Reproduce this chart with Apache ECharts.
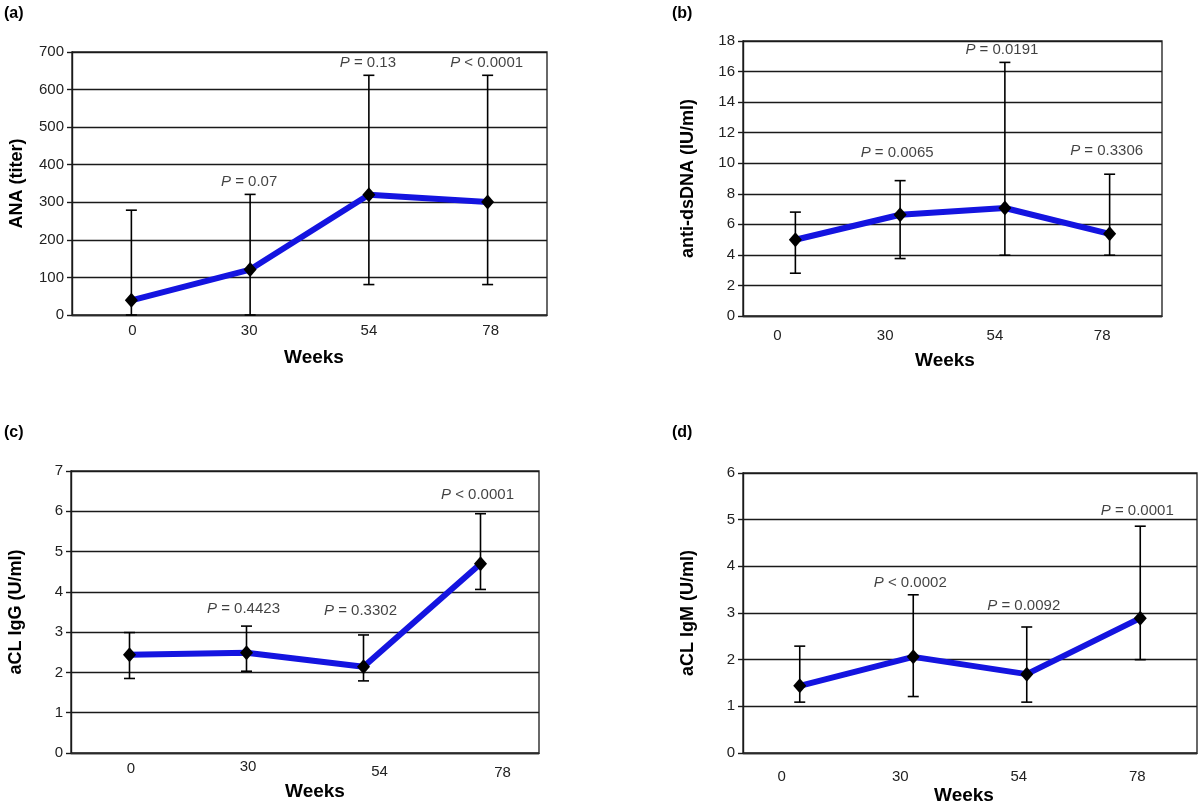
<!DOCTYPE html>
<html><head><meta charset="utf-8">
<script src="https://cdn.jsdelivr.net/npm/echarts@6/dist/echarts.min.js"></script>
<style>html,body{margin:0;padding:0;background:#fff}#c{width:1200px;height:806px}</style>
</head><body><div id="c"></div>
<script>
// ---------- data ----------
const weeks = ['0', '30', '54', '78'];

// (a) ANA (titer)
const anaMean = [39, 121, 320, 301];
const anaLow  = [0, 0, 81, 81];
const anaHigh = [279, 321, 638, 638];
const anaPText = ['', '= 0.07', '= 0.13', '< 0.0001'];
const anaPY    = [null, 355, 672, 672];
const anaTicks = [0, 700, 100];

// (b) anti-dsDNA (IU/ml)
const dnaMean = [4.99, 6.63, 7.07, 5.38];
const dnaLow  = [2.8, 3.76, 3.98, 3.98];
const dnaHigh = [6.8, 8.86, 16.6, 9.28];
const dnaPText = ['', '= 0.0065', '= 0.0191', '= 0.3306'];
const dnaPY    = [null, 10.67, 17.4, 10.78];
const dnaTicks = [0, 18, 2];

// (c) aCL IgG (U/ml)
const iggMean = [2.44, 2.49, 2.14, 4.70];
const iggLow  = [1.85, 2.03, 1.79, 4.06];
const iggHigh = [2.99, 3.15, 2.93, 5.94];
const iggPText = ['', '= 0.4423', '= 0.3302', '< 0.0001'];
const iggPY    = [null, 3.57, 3.53, 6.42];
const iggTicks = [0, 7, 1];

// (d) aCL IgM (U/ml)
const igmMean = [1.44, 2.06, 1.69, 2.89];
const igmLow  = [1.09, 1.21, 1.09, 2.0];
const igmHigh = [2.29, 3.39, 2.70, 4.86];
const igmPText = ['', '< 0.0002', '= 0.0092', '= 0.0001'];
const igmPY    = [null, 3.65, 3.15, 5.19];
const igmTicks = [0, 6, 1];

// ---------- layout / style ----------
const FONT = '"Liberation Sans", Arial, Helvetica, sans-serif';
const panels = [
  {tag:'(a)', tagPos:[4,6], yName:'ANA (titer)', mean:anaMean, low:anaLow, high:anaHigh, pText:anaPText, pY:anaPY, ticks:anaTicks,
   grid:{left:72, top:52, width:475, height:263}, labelMargin:8, labelPads:[[0,0,0,2],[0,2,0,0],[0,0,0,0],[0,0,0,6]], nameGap:33, namePad:[0,0,0,9], pDx:-1},
  {tag:'(b)', tagPos:[672,6], yName:'anti-dsDNA (IU/ml)', mean:dnaMean, low:dnaLow, high:dnaHigh, pText:dnaPText, pY:dnaPY, ticks:dnaTicks,
   grid:{left:743, top:41, width:419, height:275}, labelMargin:12, labelPads:[[0,36,0,0],[0,30,0,0],[0,20,0,0],[0,15,0,0]], nameGap:35, namePad:[0,15,0,0], pDx:-3},
  {tag:'(c)', tagPos:[4,425], yName:'aCL IgG (U/ml)', mean:iggMean, low:iggLow, high:iggHigh, pText:iggPText, pY:iggPY, ticks:iggTicks,
   grid:{left:71, top:471, width:468, height:282}, labelMargin:6, labelPads:[[2,0,0,3],[0,0,0,3],[5,0,0,32],[6,0,0,44]], nameGap:29, namePad:[0,0,0,20], pDx:-3},
  {tag:'(d)', tagPos:[672,425], yName:'aCL IgM (U/ml)', mean:igmMean, low:igmLow, high:igmHigh, pText:igmPText, pY:igmPY, ticks:igmTicks,
   grid:{left:743, top:473, width:454, height:282}, labelMargin:16, labelPads:[[0,36,0,0],[0,26,0,0],[0,16,0,0],[0,6,0,0]], nameGap:33, namePad:[0,12,0,0], pDx:-3}
];

function errRender(params, api) {
  const x = api.value(0), lo = api.value(1), hi = api.value(2);
  const a = api.coord([x, hi]), b = api.coord([x, lo]);
  const hw = 5.5;
  const st = {stroke:'#000', lineWidth:1.6};
  return {type:'group', children:[
    {type:'line', shape:{x1:a[0], y1:a[1], x2:b[0], y2:b[1]}, style:st},
    {type:'line', shape:{x1:a[0]-hw, y1:a[1], x2:a[0]+hw, y2:a[1]}, style:st},
    {type:'line', shape:{x1:b[0]-hw, y1:b[1], x2:b[0]+hw, y2:b[1]}, style:st}
  ]};
}

const option = {animation:false, backgroundColor:'#fff', title:[], grid:[], xAxis:[], yAxis:[], series:[]};

panels.forEach((p, k) => {
  option.title.push({text:p.tag, left:p.tagPos[0], top:p.tagPos[1], padding:0,
    textStyle:{fontFamily:FONT, fontSize:16, fontWeight:'bold', color:'#000'}});
  option.grid.push(Object.assign({show:true, borderColor:'#2a2a2a', borderWidth:1.4, containLabel:false}, p.grid));
  option.xAxis.push({type:'category', gridIndex:k, boundaryGap:true,
    data: weeks.map((w, i) => ({value:w, textStyle:{padding:p.labelPads[i]}})),
    name:'Weeks', nameLocation:'middle', nameGap:p.nameGap,
    nameTextStyle:{fontFamily:FONT, fontSize:19, fontWeight:'bold', color:'#000', padding:p.namePad},
    axisLine:{show:true, lineStyle:{color:'#2a2a2a', width:1.4}}, axisTick:{show:false},
    axisLabel:{interval:0, margin:p.labelMargin, fontFamily:FONT, fontSize:15, color:'#222'},
    splitLine:{show:false}});
  option.yAxis.push({type:'value', gridIndex:k, min:p.ticks[0], max:p.ticks[1], interval:p.ticks[2],
    name:p.yName, nameLocation:'middle', nameGap:46,
    nameTextStyle:{fontFamily:FONT, fontSize:18, fontWeight:'bold', color:'#000'},
    axisLine:{show:true, lineStyle:{color:'#1a1a1a', width:1.4}},
    axisTick:{show:true, length:5, lineStyle:{color:'#1a1a1a', width:1.4}},
    axisLabel:{margin:8, fontFamily:FONT, fontSize:15, color:'#222'},
    splitLine:{show:true, lineStyle:{color:'#1a1a1a', width:1.4}}});
  option.series.push({type:'custom', xAxisIndex:k, yAxisIndex:k, z:2, silent:true,
    renderItem:errRender, encode:{x:0, y:[1,2]},
    data: weeks.map((w, i) => [i, p.low[i], p.high[i]])});
  option.series.push({type:'line', xAxisIndex:k, yAxisIndex:k, z:3, silent:true,
    data:p.mean, symbol:'diamond', symbolSize:[13,15],
    itemStyle:{color:'#000'}, lineStyle:{color:'#1414e0', width:6}});
  option.series.push({type:'scatter', xAxisIndex:k, yAxisIndex:k, z:4, silent:true, symbolSize:0,
    data: weeks.map((w, i) => p.pY[i] == null ? null : {value:[i, p.pY[i]], name:p.pText[i]}).filter(d => d),
    label:{show:true, position:'inside', offset:[p.pDx, 0], fontFamily:FONT, fontSize:15, color:'#111',
      formatter: d => '{i|P} ' + d.name,
      rich:{i:{fontStyle:'italic', fontFamily:FONT, fontSize:15, color:'#111'}}}});
});

const chart = echarts.init(document.getElementById('c'), null, {renderer:'canvas'});
chart.setOption(option);
</script>
</body></html>
